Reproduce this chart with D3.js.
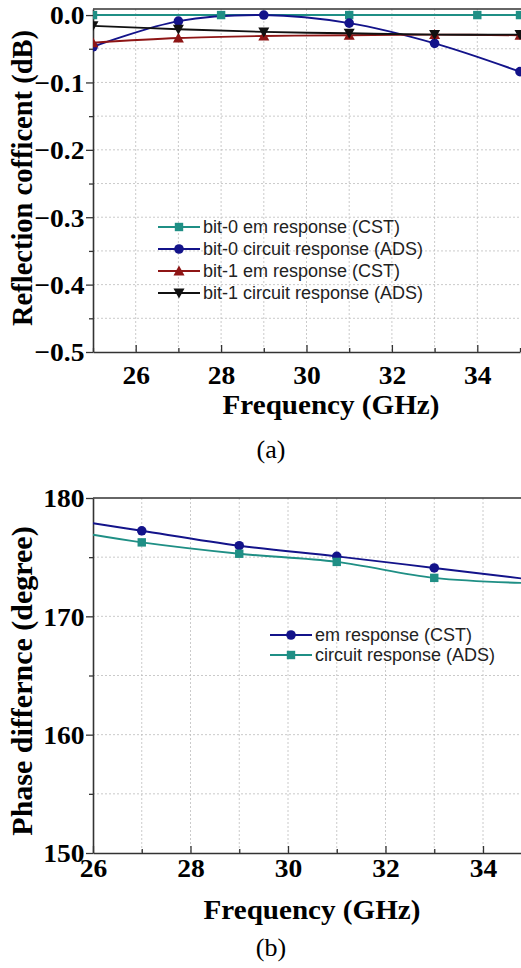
<!DOCTYPE html>
<html><head><meta charset="utf-8">
<script src="https://cdn.jsdelivr.net/npm/d3@7"></script>
<style>
html,body{margin:0;padding:0;background:#fff;}
svg{display:block;}
</style></head>
<body>
<svg id="c" width="521" height="968"></svg>
<script>
// ---------- Data (a) ----------
const freqA = [25, 27, 29, 31, 33, 35];
const bit0EmFreq = [25, 28, 31, 34, 35];
const bit0Em = [0.000, 0.000, 0.000, 0.000, 0.000];
const bit0Circuit = [-0.047, -0.009, 0.000, -0.012, -0.042, -0.084];
const bit1Em = [-0.041, -0.034, -0.031, -0.030, -0.029, -0.030];
const bit1Circuit = [-0.016, -0.021, -0.025, -0.027, -0.029, -0.029];
const yTicksA = [0.0, -0.1, -0.2, -0.3, -0.4, -0.5];
const xTicksA = [26, 28, 30, 32, 34];
const legendA = ["bit-0 em response (CST)", "bit-0 circuit response (ADS)", "bit-1 em response (CST)", "bit-1 circuit response (ADS)"];

// ---------- Data (b) ----------
const freqB = [26, 27, 29, 31, 33, 35];
const markFreqB = [27, 29, 31, 33, 35];
const phaseEm = [177.87, 177.23, 175.97, 175.07, 174.09, 173.1];
const phaseCircuit = [176.89, 176.25, 175.29, 174.60, 173.25, 172.8];
const yTicksB = [150, 160, 170, 180];
const xTicksB = [26, 28, 30, 32, 34];
const legendB = ["em response (CST)", "circuit response (ADS)"];

const C_TEAL = "#1f8f85", C_NAVY = "#13138a", C_RED = "#8e1515", C_BLACK = "#111111";
const SERIF = "'Liberation Serif','Times New Roman',serif";
const SANS = "'Liberation Sans',Arial,sans-serif";

const svg = d3.select("#c");

function marker(g, type, x, y, color) {
  if (type === "square") {
    g.append("rect").attr("x", x - 4.2).attr("y", y - 4.2).attr("width", 8.4).attr("height", 8.4).attr("fill", color);
  } else if (type === "circle") {
    g.append("circle").attr("cx", x).attr("cy", y).attr("r", 4.8).attr("fill", color);
  } else if (type === "up") {
    g.append("path").attr("d", `M${x},${y-5.5}L${x+5.5},${y+4.5}L${x-5.5},${y+4.5}Z`).attr("fill", color);
  } else if (type === "down") {
    g.append("path").attr("d", `M${x},${y+5.5}L${x+5.5},${y-4.5}L${x-5.5},${y-4.5}Z`).attr("fill", color);
  }
}

function panel(cfg) {
  const {x, y, id} = cfg;
  const L = x.range()[0], R = 521, T = y.range()[1], B = y.range()[0];
  const g = svg.append("g");
  g.append("clipPath").attr("id", id).append("rect").attr("x", L).attr("y", T - 8).attr("width", R - L).attr("height", B - T + 16);
  // grid
  const grid = g.append("g").attr("stroke", "#bdbdbd").attr("stroke-width", 0.8).attr("stroke-dasharray", "2,2");
  cfg.xGrid.forEach(v => grid.append("line").attr("x1", x(v)).attr("x2", x(v)).attr("y1", T).attr("y2", B));
  cfg.yGrid.forEach(v => grid.append("line").attr("x1", L).attr("x2", R).attr("y1", y(v)).attr("y2", y(v)));
  // axes
  const xa = g.append("g").attr("transform", `translate(0,${B})`)
    .call(d3.axisBottom(x).tickValues(cfg.xTicks).tickSize(-7).tickSizeOuter(0).tickFormat(d3.format("d")));
  const xm = g.append("g").attr("transform", `translate(0,${B})`)
    .call(d3.axisBottom(x).tickValues(cfg.xMinor).tickSize(-4).tickSizeOuter(0).tickFormat(""));
  xm.select(".domain").remove();
  const ya = g.append("g").attr("transform", `translate(${L},0)`)
    .call(d3.axisLeft(y).tickValues(cfg.yTicks).tickSize(7).tickSizeOuter(0).tickFormat(cfg.yFmt));
  const ym = g.append("g").attr("transform", `translate(${L},0)`)
    .call(d3.axisLeft(y).tickValues(cfg.yMinor).tickSize(4).tickSizeOuter(0).tickFormat(""));
  ym.select(".domain").remove();
  [xa, xm, ya, ym].forEach(a => {
    a.selectAll("line").attr("stroke", "#333").attr("stroke-width", 1.3);
    a.select(".domain").attr("stroke", "#333").attr("stroke-width", 1.6);
  });
  xa.selectAll("text").attr("font-family", SERIF).attr("font-weight", "bold").attr("font-size", 26)
    .attr("fill", "#000").attr("y", cfg.xLabelDy).attr("dy", "0.71em").attr("transform", "scale(1.06,1)");
  ya.selectAll("text").attr("font-family", SERIF).attr("font-weight", "bold").attr("font-size", 26)
    .attr("fill", "#000").attr("x", -8).attr("dy", "0.34em").attr("transform", "scale(1.06,1)");
  // top border
  g.append("line").attr("x1", L).attr("x2", R).attr("y1", T).attr("y2", T).attr("stroke", "#333").attr("stroke-width", 1.6);
  // series
  const plot = g.append("g").attr("clip-path", `url(#${id})`);
  cfg.series.forEach(s => {
    const pts = s.xs.map((f, i) => [x(f), y(s.ys[i])]);
    plot.append("path").attr("d", d3.line().curve(d3.curveCatmullRom.alpha(0.5))(pts))
      .attr("fill", "none").attr("stroke", s.color).attr("stroke-width", 1.9);
  });
  cfg.series.forEach(s => {
    s.xs.forEach((f, i) => {
      if (!s.marks || s.marks.includes(f)) marker(plot, s.type, x(f), y(s.ys[i]), s.color);
    });
  });
  // axis titles
  g.append("text").attr("transform", `translate(${cfg.xTitlePos[0]},${cfg.xTitlePos[1]}) scale(1.04,1)`)
    .attr("text-anchor", "middle").attr("font-family", SERIF).attr("font-weight", "bold").attr("font-size", 28)
    .text("Frequency (GHz)");
  g.append("text").attr("transform", `translate(${cfg.yTitlePos[0]},${cfg.yTitlePos[1]}) rotate(-90)`)
    .attr("text-anchor", "middle").attr("font-family", SERIF).attr("font-weight", "bold").attr("font-size", cfg.yTitleSize)
    .text(cfg.yTitle);
  // legend
  const lg = g.append("g");
  cfg.legend.forEach((txt, i) => {
    const s = cfg.series[i];
    const ly = cfg.legPos[1] + i * cfg.legGap;
    const lx = cfg.legPos[0];
    lg.append("line").attr("x1", lx).attr("x2", lx + 42).attr("y1", ly).attr("y2", ly).attr("stroke", s.color).attr("stroke-width", 1.9);
    marker(lg, s.type, lx + 21, ly, s.color);
    lg.append("text").attr("x", lx + 45).attr("y", ly).attr("dy", "0.35em")
      .attr("font-family", SANS).attr("font-size", 18).attr("fill", "#222").text(txt);
  });
  g.append("text").attr("x", cfg.capPos[0]).attr("y", cfg.capPos[1]).attr("text-anchor", "middle")
    .attr("font-family", SERIF).attr("font-size", 26).text(cfg.caption);
}

// ---------- Panel (a) ----------
const xA = d3.scaleLinear().domain([25, 35]).range([93, 520]);
const yA = d3.scaleLinear().domain([-0.5, 0.009]).range([352, 9]);
panel({
  id: "clipA", x: xA, y: yA,
  xGrid: d3.range(26, 35, 1), yGrid: d3.range(-0.45, 0.001, 0.05),
  xTicks: xTicksA, xMinor: [25, 27, 29, 31, 33, 35],
  yTicks: yTicksA, yMinor: [-0.05, -0.15, -0.25, -0.35, -0.45], yFmt: d3.format(".1f"),
  xLabelDy: 14,
  series: [
    {xs: bit0EmFreq, ys: bit0Em, color: C_TEAL, type: "square"},
    {xs: freqA, ys: bit0Circuit, color: C_NAVY, type: "circle"},
    {xs: freqA, ys: bit1Em, color: C_RED, type: "up"},
    {xs: freqA, ys: bit1Circuit, color: C_BLACK, type: "down"}
  ],
  legend: legendA, legPos: [158, 227], legGap: 22,
  xTitlePos: [331, 414], yTitlePos: [32, 178], yTitle: "Reflection cofficent (dB)", yTitleSize: 28.5,
  capPos: [271, 458], caption: "(a)"
});

// ---------- Panel (b) ----------
const xB = d3.scaleLinear().domain([26, 35]).range([93, 531.75]);
const yB = d3.scaleLinear().domain([150, 180]).range([853, 498]);
panel({
  id: "clipB", x: xB, y: yB,
  xGrid: d3.range(27, 35.5, 1), yGrid: [155, 160, 165, 170, 175],
  xTicks: xTicksB, xMinor: [27, 29, 31, 33, 35],
  yTicks: yTicksB, yMinor: [155, 165, 175], yFmt: d3.format("d"),
  xLabelDy: 6,
  series: [
    {xs: freqB, ys: phaseEm, color: C_NAVY, type: "circle", marks: markFreqB},
    {xs: freqB, ys: phaseCircuit, color: C_TEAL, type: "square", marks: markFreqB}
  ],
  legend: legendB, legPos: [270, 635], legGap: 20,
  xTitlePos: [312, 919], yTitlePos: [32, 681], yTitle: "Phase differnce (degree)", yTitleSize: 30,
  capPos: [271, 956], caption: "(b)"
});
</script>
</body></html>
